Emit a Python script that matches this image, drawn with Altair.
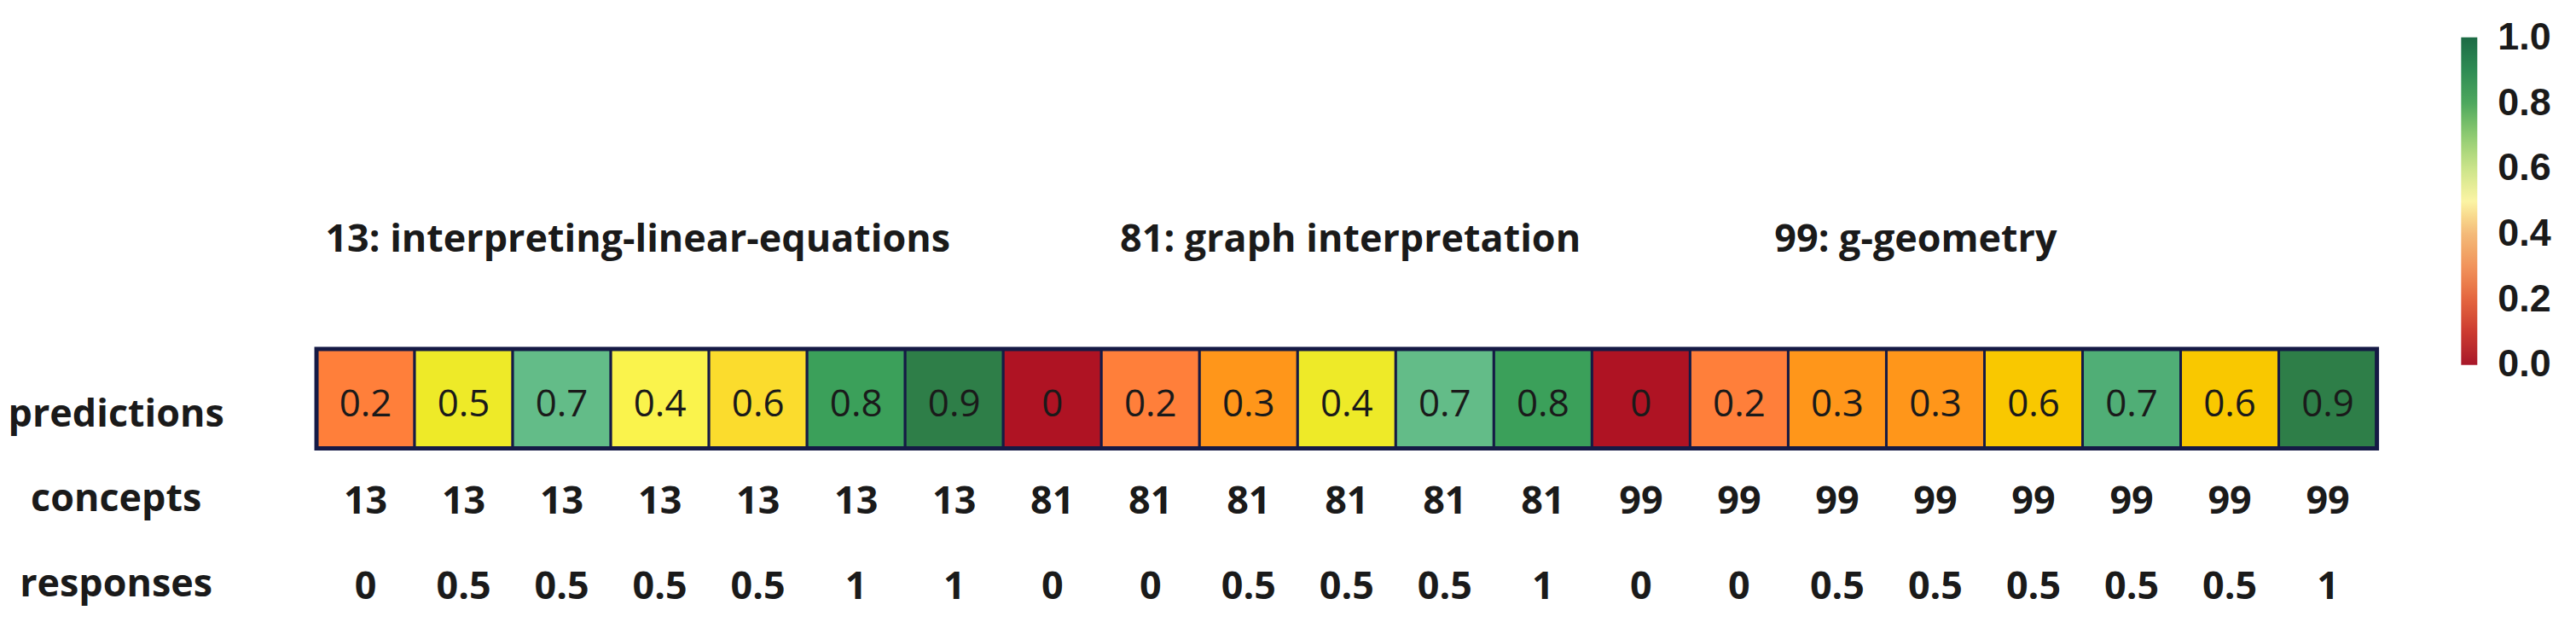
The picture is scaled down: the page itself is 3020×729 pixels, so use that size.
import altair as alt
import pandas as pd

# ---- data ----
predictions = [0.2, 0.5, 0.7, 0.4, 0.6, 0.8, 0.9,
               0, 0.2, 0.3, 0.4, 0.7, 0.8,
               0, 0.2, 0.3, 0.3, 0.6, 0.7, 0.6, 0.9]
concepts = [13, 13, 13, 13, 13, 13, 13,
            81, 81, 81, 81, 81, 81,
            99, 99, 99, 99, 99, 99, 99, 99]
responses = [0, 0.5, 0.5, 0.5, 0.5, 1, 1,
             0, 0, 0.5, 0.5, 0.5, 1,
             0, 0, 0.5, 0.5, 0.5, 0.5, 0.5, 1]
row_names = ["predictions", "concepts", "responses"]
group_titles = ["13: interpreting-linear-equations", "81: graph interpretation", "99: g-geometry"]
group_title_anchor = [0.09, 8.19, 14.86]   # in cell units (left edge of text)
colorbar_ticks = [0.0, 0.2, 0.4, 0.6, 0.8, 1.0]

# ---- styles ----
cell_colors = ["#FF7F3A", "#EEEA28", "#63BC88", "#FAF34C", "#FBDC2D", "#3BA05A", "#2E7E48",
               "#AF1323", "#FF7F3A", "#FF961A", "#EEEA28", "#63BC88", "#3BA05A",
               "#AF1323", "#FF7F3A", "#FF961A", "#FF961A", "#F9C800", "#50AE76", "#F9C800", "#2E7E48"]
# colour-bar colormap stops (ends nudged a hair outside 0..1 so end labels stay centred on their ticks)
cbar_stops = [-0.001, 0.1, 0.2, 0.3, 0.4, 0.5, 0.6, 0.7, 0.8, 0.9, 1.001]
cbar_colors = ["#A81729", "#CC3A30", "#E4653F", "#F1935B", "#F4BA79", "#FBF4A4",
               "#CBE48A", "#8FCB72", "#4EA85E", "#2E8C54", "#1D6B45"]
EDGE = "#151A45"
TXT = "#1a1a1a"


def fmt(v):
    return f"{v:g}"


n = len(predictions)
cells = pd.DataFrame({
    "idx": list(range(n)),
    "pred": predictions,
    "pred_txt": [fmt(v) for v in predictions],
})
rows_long = pd.DataFrame({
    "idx": list(range(n)) * 2,
    "row": ["concepts"] * n + ["responses"] * n,
    "txt": [str(c) for c in concepts] + [fmt(r) for r in responses],
})
titles_df = pd.DataFrame({"pos": group_title_anchor, "title": group_titles})

xscale = alt.Scale(domain=[0, n], nice=False, zero=False)
yscale = alt.Scale(domain=row_names, range=[0, 300], paddingInner=0, paddingOuter=0)

base = alt.Chart(cells).transform_calculate(
    x0="datum.idx", x1="datum.idx + 1", xc="datum.idx + 0.5"
)

yaxis = alt.Axis(title=None, domain=False, ticks=False, tickSize=0, grid=False,
                 labelFont="Open Sans", labelFontWeight="bold", labelFontSize=45,
                 labelColor=TXT, labelAlign="center", labelPadding=236, labelLimit=600,
                 labelBaseline="alphabetic", labelOffset=13)

heat = base.mark_rect(stroke=EDGE, strokeWidth=3, height=117, yOffset=-19.5).encode(
    x=alt.X("x0:Q", scale=xscale, axis=None),
    x2="x1:Q",
    y=alt.Y(datum="predictions", type="nominal", scale=yscale, axis=yaxis),
    fill=alt.Fill("idx:N", scale=alt.Scale(range=cell_colors), legend=None),
)

frame = base.mark_rect(fillOpacity=0, stroke=EDGE, strokeWidth=5, height=117, yOffset=-19.5).encode(
    x=alt.X("min(x0):Q", scale=xscale, axis=None),
    x2="max(x1):Q",
    y=alt.Y(datum="predictions", type="nominal", scale=yscale),
)

values = base.mark_text(font="Open Sans", fontSize=44, baseline="alphabetic", dy=1, color=TXT).encode(
    x=alt.X("xc:Q", scale=xscale, axis=None),
    y=alt.Y(datum="predictions", type="nominal", scale=yscale),
    text="pred_txt:N",
)

legend_layer = base.mark_circle(size=0, opacity=1).encode(
    x=alt.X("xc:Q", scale=xscale, axis=None),
    y=alt.Y(datum="predictions", type="nominal", scale=yscale),
    color=alt.Color("pred:Q",
                    scale=alt.Scale(domain=cbar_stops, range=cbar_colors),
                    legend=alt.Legend(orient="none", legendX=2521, legendY=-394,
                                      direction="vertical", gradientLength=385,
                                      gradientThickness=19, title=None,
                                      values=colorbar_ticks, format=".1f",
                                      labelFont="Liberation Sans", labelFontWeight="bold",
                                      labelFontSize=45, labelColor=TXT, labelOffset=24,
                                      labelBaseline="middle", labelOverlap=False, padding=0,
                                      gradientStrokeWidth=0, gradientOpacity=1)),
)

row_text = alt.Chart(rows_long).transform_calculate(xc="datum.idx + 0.5").mark_text(
    font="Open Sans", fontWeight="bold", fontSize=45, baseline="alphabetic", dy=16, color=TXT
).encode(
    x=alt.X("xc:Q", scale=xscale, axis=None),
    y=alt.Y("row:N", scale=yscale),
    text="txt:N",
)

title_text = alt.Chart(titles_df).mark_text(
    font="Open Sans", fontWeight="bold", fontSize=45, align="left", baseline="alphabetic",
    dy=-192, color=TXT
).encode(
    x=alt.X("pos:Q", scale=xscale, axis=None),
    y=alt.Y(datum="predictions", type="nominal", scale=yscale),
    text="title:N",
)

chart = alt.layer(heat, frame, values, legend_layer, row_text, title_text).properties(
    width=2422, height=260,
    autosize=alt.AutoSizeParams(type="none"),
    padding={"left": 364, "top": 429, "right": 226, "bottom": 24},
    background="white",
).configure_view(stroke=None)

chart.save("out.html", embed_options={"renderer": "svg", "actions": False})
